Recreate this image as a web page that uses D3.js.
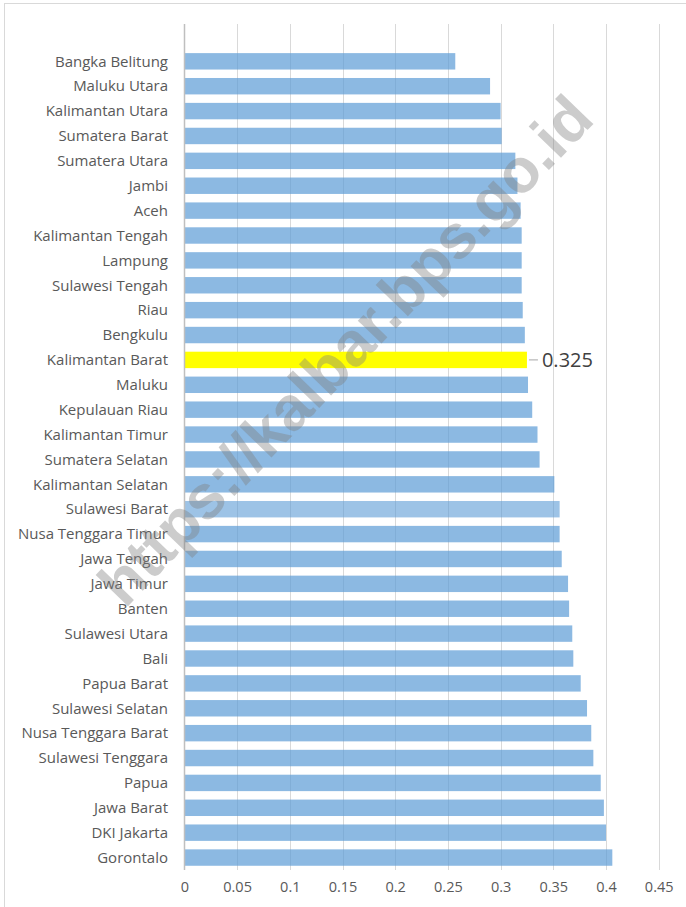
<!DOCTYPE html>
<html>
<head>
<meta charset="utf-8">
<script src="https://cdn.jsdelivr.net/npm/d3@7"></script>
<style>
  html, body { margin: 0; padding: 0; background: #fff; }
  svg { display: block; }
</style>
</head>
<body>
<svg id="chart" width="686" height="907"></svg>
<script>
// Provinces, top to bottom
const provinces = [
  "Bangka Belitung", "Maluku Utara", "Kalimantan Utara", "Sumatera Barat",
  "Sumatera Utara", "Jambi", "Aceh", "Kalimantan Tengah", "Lampung",
  "Sulawesi Tengah", "Riau", "Bengkulu", "Kalimantan Barat", "Maluku",
  "Kepulauan Riau", "Kalimantan Timur", "Sumatera Selatan", "Kalimantan Selatan",
  "Sulawesi Barat", "Nusa Tenggara Timur", "Jawa Tengah", "Jawa Timur", "Banten",
  "Sulawesi Utara", "Bali", "Papua Barat", "Sulawesi Selatan",
  "Nusa Tenggara Barat", "Sulawesi Tenggara", "Papua", "Jawa Barat",
  "DKI Jakarta", "Gorontalo"
];

// Gini ratio per province
const giniValues = [
  0.257, 0.290, 0.300, 0.301,
  0.314, 0.316, 0.319, 0.320, 0.320,
  0.320, 0.321, 0.323, 0.325, 0.326,
  0.330, 0.335, 0.337, 0.351,
  0.356, 0.356, 0.358, 0.364, 0.365,
  0.368, 0.369, 0.376, 0.382,
  0.386, 0.388, 0.395, 0.398,
  0.400, 0.406
];

const xTicks = [0, 0.05, 0.1, 0.15, 0.2, 0.25, 0.3, 0.35, 0.4, 0.45];
const highlighted = "Kalimantan Barat";
const lighter = "Sulawesi Barat";
const watermark = "https://kalbar.bps.go.id";

const data = provinces.map((p, i) => ({ name: p, value: giniValues[i] }));

const svg = d3.select("#chart");
const font = "'Open Sans', 'DejaVu Sans', sans-serif";

// outer frame
svg.append("rect")
  .attr("x", 4.5).attr("y", 3.5)
  .attr("width", 720).attr("height", 940)
  .attr("fill", "none").attr("stroke", "#d9d9d9").attr("stroke-width", 1);

const plotTop = 24, plotBottom = 870;
const slot = (plotBottom - plotTop) / (provinces.length + 1);

const x = d3.scaleLinear().domain([0, 0.45]).range([184.4, 658.7]);
const y = d3.scaleBand()
  .domain(provinces)
  .range([plotTop + slot, plotBottom])
  .paddingInner(0.34).paddingOuter(0.17);

// vertical gridlines
svg.append("g")
  .selectAll("line")
  .data(xTicks.slice(1))
  .join("line")
  .attr("x1", d => Math.round(x(d)) + 0.5)
  .attr("x2", d => Math.round(x(d)) + 0.5)
  .attr("y1", plotTop).attr("y2", plotBottom)
  .attr("stroke", "#d9d9d9").attr("stroke-width", 1);

// bars
svg.append("g")
  .selectAll("rect")
  .data(data)
  .join("rect")
  .attr("x", x(0))
  .attr("y", d => y(d.name))
  .attr("width", d => x(d.value) - x(0))
  .attr("height", y.bandwidth())
  .attr("fill", d => d.name === highlighted ? "#ffff00" : "#5b9bd5")
  .attr("fill-opacity", d => d.name === highlighted ? 1 : (d.name === lighter ? 0.6 : 0.7));

// category axis line
svg.append("line")
  .attr("x1", Math.round(x(0)) + 0.5).attr("x2", Math.round(x(0)) + 0.5)
  .attr("y1", plotTop).attr("y2", plotBottom)
  .attr("stroke", "#bfbfbf").attr("stroke-width", 1.5);

// category labels
svg.append("g")
  .selectAll("text")
  .data(data)
  .join("text")
  .attr("x", 168)
  .attr("y", d => y(d.name) + y.bandwidth() / 2)
  .attr("dy", "0.35em")
  .attr("text-anchor", "end")
  .attr("font-family", font)
  .attr("font-size", 15)
  .attr("fill", "#595959")
  .text(d => d.name);

// value axis labels
const xAxis = d3.axisBottom(x).tickValues(xTicks).tickSize(0).tickPadding(0)
  .tickFormat(d => String(d));
const gx = svg.append("g").attr("transform", `translate(0,${887})`).call(xAxis);
gx.select(".domain").remove();
gx.selectAll("text")
  .attr("dy", "0.35em")
  .attr("font-family", font)
  .attr("font-size", 14.5)
  .attr("fill", "#595959");

// data label with leader for the highlighted province
const hi = data.find(d => d.name === highlighted);
const hy = y(hi.name) + y.bandwidth() / 2;
svg.append("line")
  .attr("x1", x(hi.value) + 2).attr("x2", x(hi.value) + 11)
  .attr("y1", hy).attr("y2", hy)
  .attr("stroke", "#a6a6a6").attr("stroke-width", 1);
svg.append("text")
  .attr("x", x(hi.value) + 15)
  .attr("y", hy)
  .attr("dy", "0.35em")
  .attr("font-family", font)
  .attr("font-size", 20)
  .attr("fill", "#404040")
  .text(d3.format(".3f")(hi.value));

// watermark
svg.append("text")
  .attr("transform", "translate(345,350) rotate(-46)")
  .attr("text-anchor", "middle")
  .attr("dy", "0.35em")
  .attr("font-family", "'Liberation Sans', Arial, sans-serif")
  .attr("font-weight", "bold")
  .attr("font-size", 62)
  .attr("fill", "#808080")
  .attr("fill-opacity", 0.4)
  .text(watermark);
</script>
</body>
</html>
